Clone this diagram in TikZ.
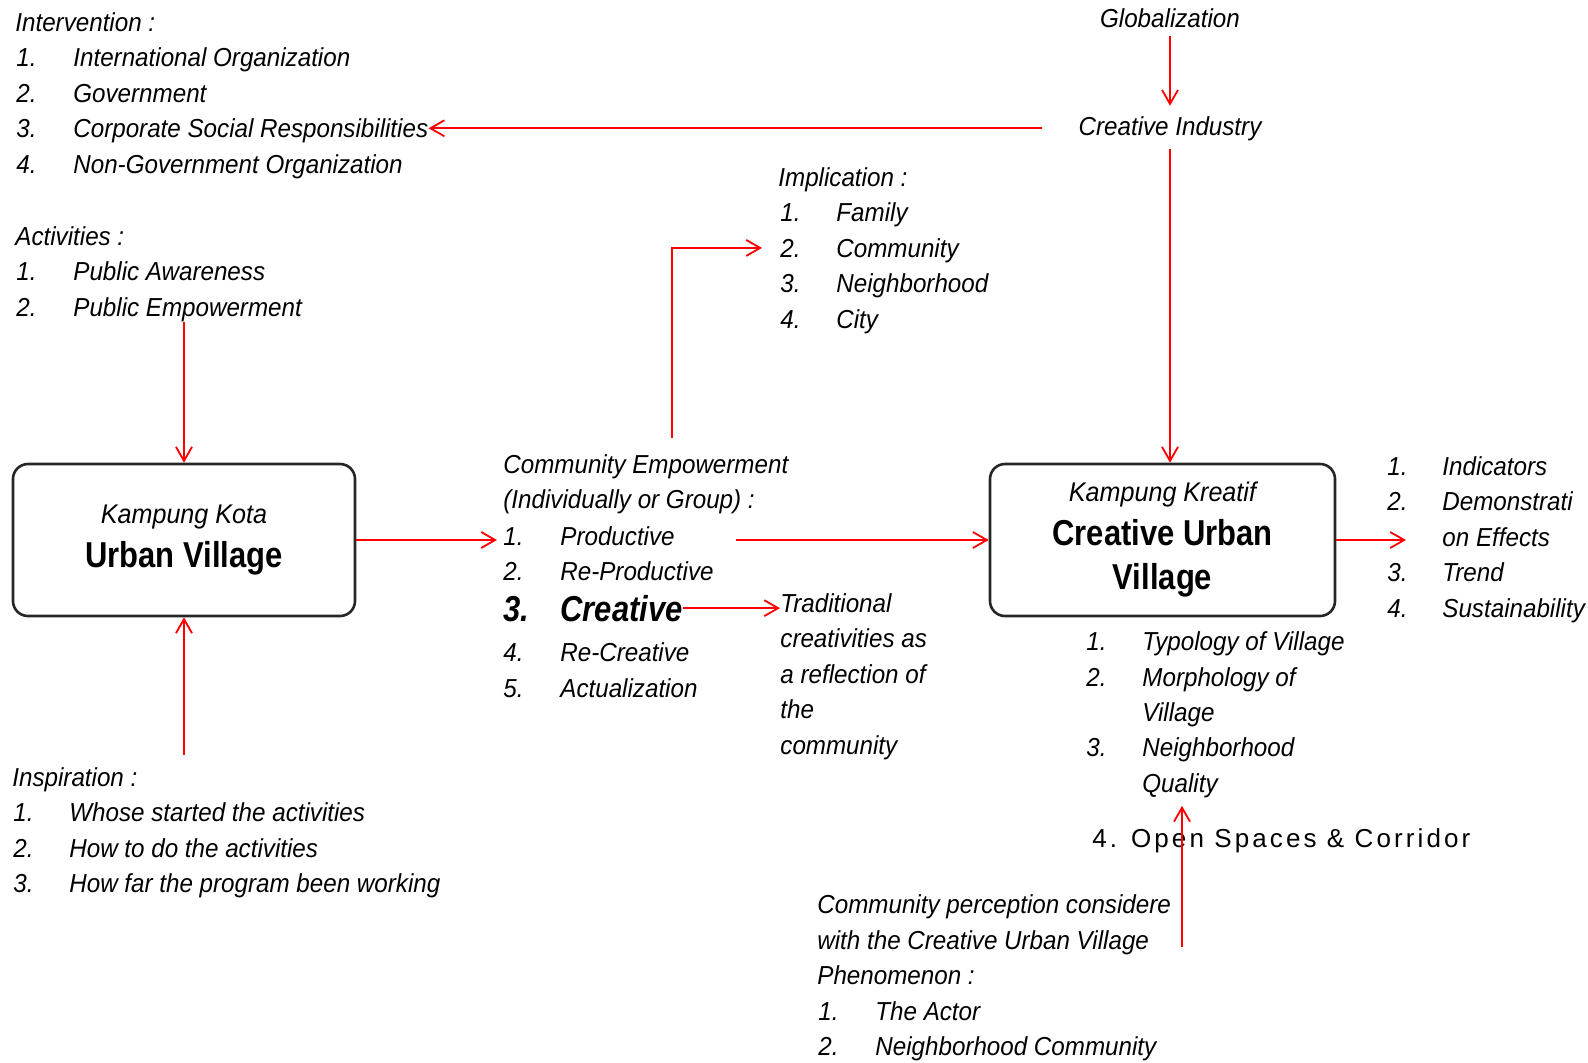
\documentclass[tikz,border=0pt]{standalone}
\usepackage{fontspec}
\setmainfont{Liberation Sans}[FakeStretch=0.93]
\newfontfamily\boldnarrow{Liberation Sans}[FakeStretch=0.86]
\newfontfamily\spacedfont{Liberation Sans}[LetterSpace=12]
\usetikzlibrary{positioning,arrows.meta}
\tikzset{
  txt/.style={anchor=base west, inner sep=0pt, font=\fontsize{13}{17}\selectfont\itshape},
  title/.style={txt, anchor=base},
  villagebox/.style={draw=black!85, line width=1.3pt, rounded corners=7.5pt, align=center,
                     minimum height=76pt, font=\fontsize{13.5}{22}\selectfont\itshape},
  flow/.style={draw=red, line width=0.9pt, -{Straight Barb[length=7pt,width=8pt]}},
}
\newcommand{\bigbold}[1]{{\boldnarrow\fontsize{18}{22}\selectfont\bfseries\upshape #1}}

\begin{document}
\begin{tikzpicture}[x=0.5pt, y=-0.5pt]
\useasboundingbox (0,0) rectangle (1588,1062);

%Top right
\node[title] (glob) at (1170,27) {Globalization};
\node[title] (ci) at (1170,135) {Creative Industry};

%Intervention
\node[txt] (intv) at (15,31) {Intervention :};
\foreach \t [count=\i] in {International Organization, Government, Corporate Social Responsibilities, Non-Government Organization}{
  \node[txt] (intvn\i) at (16,{31+35.5*\i}) {\i.};
  \node[txt] (intv\i) at (73,{31+35.5*\i}) {\t};
}

%Activities
\node[txt] (act) at (15,245) {Activities :};
\foreach \t [count=\i] in {Public Awareness, Public Empowerment}{
  \node[txt] (actn\i) at (16,{245+35.5*\i}) {\i.};
  \node[txt] (act\i) at (73,{245+35.5*\i}) {\t};
}

%Inspiration
\node[txt] (insp) at (12,786) {Inspiration :};
\foreach \t [count=\i] in {Whose started the activities, How to do the activities, How far the program been working}{
  \node[txt] (inspn\i) at (13,{786+35.5*\i}) {\i.};
  \node[txt] (insp\i) at (69,{786+35.5*\i}) {\t};
}

%Implication
\node[txt] (imp) at (778,186) {Implication :};
\foreach \t [count=\i] in {Family, Community, Neighborhood, City}{
  \node[txt] (impn\i) at (780,{186+35.5*\i}) {\i.};
  \node[txt] (imp\i) at (836,{186+35.5*\i}) {\t};
}

%Community empowerment
\node[txt] (ce) at (503,473) {Community Empowerment};
\node[txt] (ceb) at (503,508) {(Individually or Group) :};
\foreach \i/\t/\y in {1/Productive/545, 2/Re-Productive/580, 4/Re-Creative/661, 5/Actualization/697}{
  \node[txt] (cen\i) at (503,\y) {\i.};
  \node[txt] (ce\i) at (560,\y) {\t};
}
\node[txt, font=\fontsize{18}{22}\selectfont\boldnarrow\bfseries\itshape] (cen3) at (503,621) {3.};
\node[txt, font=\fontsize{18}{22}\selectfont\boldnarrow\bfseries\itshape] (ce3) at (560,621) {Creative};

\foreach \t [count=\i] in {Traditional, creativities as, a reflection of, the, community}{
  \node[txt] (trad\i) at (780,{576.5+35.5*\i}) {\t};
}

%Boxes
\node[villagebox, minimum width=171pt] (urban) at (184,540) {Kampung Kota\\\bigbold{Urban Village}};
\node[villagebox, minimum width=172.5pt] (creative) at (1162.5,540) {Kampung Kreatif\\\bigbold{Creative Urban}\\\bigbold{Village}};

%Outcomes
\node[txt] (outn1) at (1387,475) {1.};
\node[txt] (out1) at (1442,475) {Indicators};
\node[txt] (outn2) at (1387,510) {2.};
\node[txt] (out2) at (1442,510) {Demonstrati};
\node[txt] (out2b) at (1442,546) {on Effects};
\node[txt] (outn3) at (1387,581) {3.};
\node[txt] (out3) at (1442,581) {Trend};
\node[txt] (outn4) at (1387,617) {4.};
\node[txt] (out4) at (1442,617) {Sustainability};

%Village aspects
\node[txt] (aspn1) at (1086,650) {1.};
\node[txt] (asp1) at (1142,650) {Typology of Village};
\node[txt] (aspn2) at (1086,686) {2.};
\node[txt] (asp2) at (1142,686) {Morphology of};
\node[txt] (asp2b) at (1142,721) {Village};
\node[txt] (aspn3) at (1086,756) {3.};
\node[txt] (asp3) at (1142,756) {Neighborhood};
\node[txt] (asp3b) at (1142,792) {Quality};
\node[txt, font=\fontsize{13}{17}\selectfont\spacedfont] (asp4) at (1092,847) {4. Open Spaces \& Corridor};

%Perception
\node[txt] (perc) at (817,913) {Community perception considere};
\node[txt] (percb) at (817,949) {with the Creative Urban Village};
\node[txt] (percc) at (817,984) {Phenomenon :};
\node[txt] (percn1) at (818,1020) {1.};
\node[txt] (perc1) at (875,1020) {The Actor};
\node[txt] (percn2) at (818,1055) {2.};
\node[txt] (perc2) at (875,1055) {Neighborhood Community};
\coordinate (percup) at (1182,947);

%Lines
\draw[flow] ([yshift=-4pt]glob.south) -- ([yshift=5pt]ci.north);
\draw[flow] ([xshift=-18pt]ci.west) -- (ci.west -| intv3.east);
\draw[flow] ([yshift=-4pt]ci.south) -- (ci.south |- creative.north);
\draw[flow] (urban.north |- act2.south) -- (urban.north);
\draw[flow] ([yshift=6pt]urban.south |- insp.north) -- (urban.south);
\draw[flow] (urban.east) -- ([xshift=-3pt]urban.east -| cen1.west);
\draw[flow] ([xshift=11pt]ce2.east |- creative.west) -- (creative.west);
\draw[flow] (ce3.east) -- (ce3.east -| trad1.west);
\draw[flow] ([xshift=13pt, yshift=8pt]ce.north) |- ([xshift=-9pt]impn2.west);
\draw[flow] (creative.east) -- ([xshift=-18pt]creative.east -| out1.west);
\draw[flow] (percup) -- ([yshift=-4pt]percup |- asp3b.south);
\end{tikzpicture}
\end{document}
